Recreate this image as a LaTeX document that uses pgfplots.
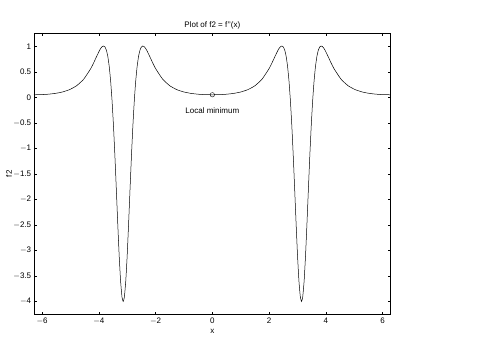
\documentclass[border=0pt]{standalone}
\usepackage{fontspec}
\setmainfont{Liberation Sans}
\usepackage{pgfplots}
\pgfplotsset{compat=1.18}
\begin{document}
\fontsize{8}{9.5}\selectfont
\begin{tikzpicture}
\path[use as bounding box] (0,0) rectangle (480pt,340pt);
\begin{axis}[
  at={(34pt,25.3pt)}, anchor=south west,
  scale only axis, width=356.7pt, height=281.7pt,
  xmin=-6.283185, xmax=6.283185, ymin=-4.26, ymax=1.26,
  xtick={-6,-4,-2,0,2,4,6},
  ytick={-4,-3.5,-3,-2.5,-2,-1.5,-1,-0.5,0,0.5,1},
  yticklabels={$-$4,$-$3.5,$-$3,$-$2.5,$-$2,$-$1.5,$-$1,$-$0.5,0,0.5,1},
  xticklabels={$-$6,$-$4,$-$2,0,2,4,6},
  tick align=inside, major tick length=3pt,
  tick style={black, line width=0.4pt},
  axis line style={line width=0.5pt},
  tick label style={font=\fontsize{8}{9}\selectfont},
  title={Plot of f2 = f{'}{'}(x)},
  title style={font=\fontsize{8}{9}\selectfont, yshift=-5pt},
  xlabel={x}, ylabel={f2},
  label style={font=\fontsize{8}{9}\selectfont},
  xlabel style={yshift=0pt},
  ylabel style={yshift=-4pt},
  clip=true,
]
\addplot[black, line width=0.5pt, smooth, tension=0.3] coordinates {
(-6.28319,0.0494)(-6.03319,0.0520)(-5.78319,0.0604)(-5.53319,0.0764)(-5.28319,0.1038)(-5.03319,0.1496)(-4.78319,0.2261)(-4.53319,0.3545)(-4.28319,0.5634)(-4.18319,0.6732)(-4.08319,0.7929)(-3.98319,0.9091)(-3.93319,0.9575)(-3.88319,0.9921)(-3.83319,1.0050)(-3.78319,0.9862)(-3.73319,0.9231)(-3.68319,0.8010)(-3.63319,0.6041)(-3.58319,0.3175)(-3.53319,-0.0703)(-3.48319,-0.5622)(-3.43319,-1.1481)(-3.38319,-1.8002)(-3.33319,-2.4707)(-3.28319,-3.0945)(-3.23319,-3.5982)(-3.18319,-3.9143)(-3.14159,-4.0)
(-3.1,-3.9143)(-3.05,-3.5982)(-3.0,-3.0945)(-2.95,-2.4707)(-2.9,-1.8002)(-2.85,-1.1481)(-2.8,-0.5622)(-2.75,-0.0703)(-2.7,0.3175)(-2.65,0.6041)(-2.6,0.8010)(-2.55,0.9231)(-2.5,0.9862)(-2.45,1.0050)(-2.4,0.9921)(-2.35,0.9575)(-2.3,0.9091)(-2.2,0.7929)(-2.1,0.6732)(-2.0,0.5634)(-1.75,0.3545)(-1.5,0.2261)(-1.25,0.1496)(-1.0,0.1038)(-0.75,0.0764)(-0.5,0.0604)(-0.25,0.0520)
(0,0.0494)(0.25,0.0520)(0.5,0.0604)(0.75,0.0764)(1.0,0.1038)(1.25,0.1496)(1.5,0.2261)(1.75,0.3545)(2.0,0.5634)(2.1,0.6732)(2.2,0.7929)(2.3,0.9091)(2.35,0.9575)(2.4,0.9921)(2.45,1.0050)(2.5,0.9862)(2.55,0.9231)(2.6,0.8010)(2.65,0.6041)(2.7,0.3175)(2.75,-0.0703)(2.8,-0.5622)(2.85,-1.1481)(2.9,-1.8002)(2.95,-2.4707)(3.0,-3.0945)(3.05,-3.5982)(3.1,-3.9143)(3.14159,-4.0)
(3.18319,-3.9143)(3.23319,-3.5982)(3.28319,-3.0945)(3.33319,-2.4707)(3.38319,-1.8002)(3.43319,-1.1481)(3.48319,-0.5622)(3.53319,-0.0703)(3.58319,0.3175)(3.63319,0.6041)(3.68319,0.8010)(3.73319,0.9231)(3.78319,0.9862)(3.83319,1.0050)(3.88319,0.9921)(3.93319,0.9575)(3.98319,0.9091)(4.08319,0.7929)(4.18319,0.6732)(4.28319,0.5634)(4.53319,0.3545)(4.78319,0.2261)(5.03319,0.1496)(5.28319,0.1038)(5.53319,0.0764)(5.78319,0.0604)(6.03319,0.0520)(6.28319,0.0494)
};
\addplot[only marks, mark=o, mark size=2.2pt, black, line width=0.4pt] coordinates {(0,0.0494)};
\node[font=\fontsize{8}{9}\selectfont] at (axis cs:0,-0.27) {Local minimum};
\end{axis}
\end{tikzpicture}
\end{document}
